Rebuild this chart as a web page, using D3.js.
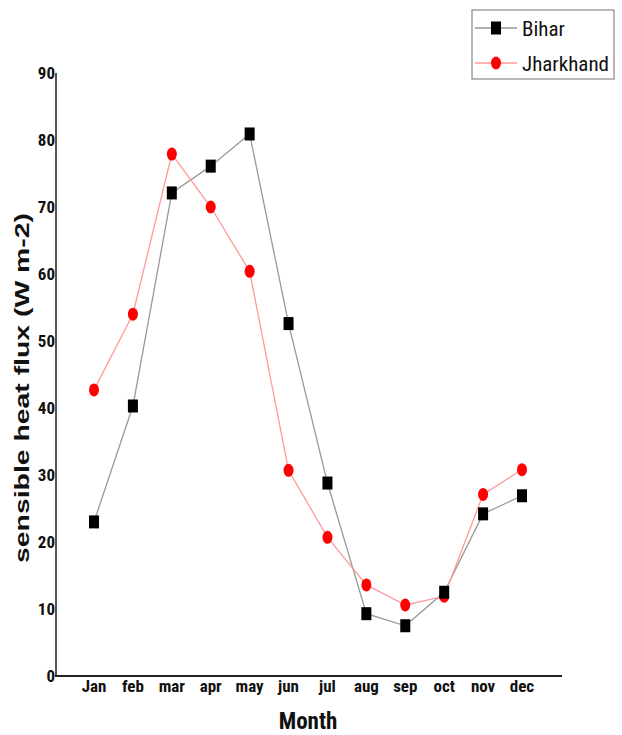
<!DOCTYPE html>
<html><head><meta charset="utf-8">
<script src="https://cdn.jsdelivr.net/npm/d3@7"></script>
<style>body{margin:0;background:#fff}</style>
</head><body>
<svg id="c" width="622" height="735"></svg>
<script>
const months = ["Jan","feb","mar","apr","may","jun","jul","aug","sep","oct","nov","dec"];
const bihar = [23.0,40.3,72.1,76.1,80.9,52.6,28.8,9.3,7.5,12.5,24.2,26.9];
const jharkhand = [42.7,54.0,77.9,70.0,60.4,30.7,20.7,13.6,10.6,11.9,27.1,30.8];
const yTicks = [0,10,20,30,40,50,60,70,80,90];

const svg = d3.select("#c");
const narrow = "'Liberation Sans Narrow','Arial Narrow','Roboto Condensed',sans-serif";
const x = d3.scalePoint().domain(months).range([94,522]);
const y = d3.scaleLinear().domain([0,90]).range([676,73]);

// axes
svg.append("line").attr("x1",56).attr("x2",56).attr("y1",y(90)).attr("y2",y(0)+1)
  .attr("stroke","#555").attr("stroke-width",2);
svg.append("line").attr("x1",55).attr("x2",562).attr("y1",y(0)).attr("y2",y(0))
  .attr("stroke","#222").attr("stroke-width",2);

svg.selectAll(".yt").data(yTicks).enter().append("text")
  .attr("x",55).attr("y",d=>y(d)).attr("dy","0.35em").attr("text-anchor","end")
  .attr("font-family",narrow).attr("font-weight","bold").attr("font-size",17).attr("fill","#111")
  .text(d=>d);

svg.selectAll(".xt").data(months).enter().append("text")
  .attr("x",d=>x(d)).attr("y",692).attr("text-anchor","middle")
  .attr("font-family",narrow).attr("font-weight","bold").attr("font-size",17).attr("fill","#111")
  .text(d=>d);

svg.append("text").attr("x",308).attr("y",729).attr("text-anchor","middle")
  .attr("font-family",narrow).attr("font-weight","bold").attr("font-size",23).attr("fill","#111")
  .text("Month");

svg.append("text").attr("transform","translate(29,388) rotate(-90)").attr("text-anchor","middle")
  .attr("font-family","'Liberation Sans',Arial,sans-serif").attr("font-weight","bold").attr("font-size",20).attr("fill","#111")
  .attr("textLength",350).attr("lengthAdjust","spacingAndGlyphs")
  .text("sensible heat flux (W m-2)");

const line = d3.line().x((d,i)=>x(months[i])).y(d=>y(d));
svg.append("path").datum(bihar).attr("d",line).attr("fill","none").attr("stroke","#999").attr("stroke-width",1.3);
svg.append("path").datum(jharkhand).attr("d",line).attr("fill","none").attr("stroke","#ff9a9a").attr("stroke-width",1.3);

svg.selectAll(".jm").data(jharkhand).enter().append("ellipse")
  .attr("cx",(d,i)=>x(months[i])).attr("cy",d=>y(d)).attr("rx",5).attr("ry",6.5).attr("fill","#ff0000");
svg.selectAll(".bm").data(bihar).enter().append("rect")
  .attr("x",(d,i)=>x(months[i])-5).attr("y",d=>y(d)-6.5).attr("width",10).attr("height",13).attr("fill","#000");

// legend
svg.append("rect").attr("x",472).attr("y",10).attr("width",142).attr("height",69)
  .attr("fill","#fff").attr("stroke","#888").attr("stroke-width",1.2);
svg.append("line").attr("x1",475).attr("x2",517).attr("y1",28).attr("y2",28).attr("stroke","#999").attr("stroke-width",1.3);
svg.append("rect").attr("x",491).attr("y",21.5).attr("width",10).attr("height",13).attr("fill","#000");
svg.append("line").attr("x1",475).attr("x2",517).attr("y1",63).attr("y2",63).attr("stroke","#ff9a9a").attr("stroke-width",1.3);
svg.append("ellipse").attr("cx",496).attr("cy",63).attr("rx",5).attr("ry",6.5).attr("fill","#ff0000");
svg.append("text").attr("x",522).attr("y",28).attr("dy","0.36em")
  .attr("font-family",narrow).attr("font-size",21).attr("fill","#111").text("Bihar");
svg.append("text").attr("x",522).attr("y",63).attr("dy","0.36em")
  .attr("font-family",narrow).attr("font-size",21).attr("fill","#111").text("Jharkhand");
</script>
</body></html>
